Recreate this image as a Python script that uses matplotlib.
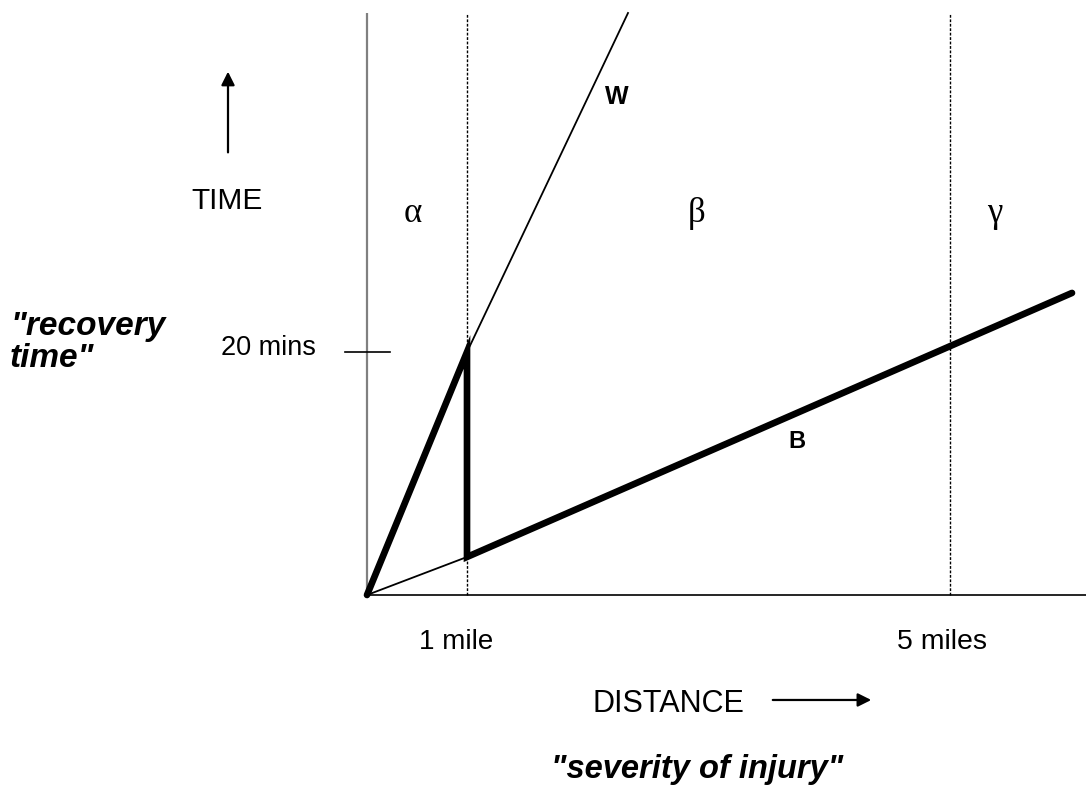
import matplotlib
matplotlib.use("Agg")
import matplotlib.pyplot as plt

# ---- data (schematic units: x = distance position, y = minutes) ----
region_bounds = [1.0, 5.83]            # dashed boundaries (1 mile, 5 miles)
tick_labels_x = ["1 mile", "5 miles"]
time_tick = 20.0                        # "20 mins"
time_tick_label = "20 mins"

w_x = [0.0, 1.0, 2.61]                  # line W
w_y = [0.0, 20.0, 47.9]
b_x = [0.0, 1.0, 7.05]                  # line B
b_y = [0.0, 3.13, 24.86]
thick_x = [0.0, 1.0, 1.0, 7.05]         # highlighted path
thick_y = [0.0, 20.0, 3.13, 24.86]

region_labels = ["α", "β", "γ"]
region_label_x = [0.46, 3.30, 6.28]

XMAX, YMAX = 7.19, 47.9

plt.rcParams['font.family'] = ['Liberation Sans', 'DejaVu Sans']

fig = plt.figure(figsize=(10.86, 7.86), dpi=100)
W, H = 1086, 786
x0, y0, ytop = 367, 595, 13
ax = fig.add_axes([x0 / W, (H - y0) / H, (W - x0) / W, (y0 - ytop) / H])
ax.set_xlim(0, XMAX)
ax.set_ylim(0, YMAX)
ax.axis('off')

# axes lines
ax.plot([0, 0], [0, YMAX], color='#808080', lw=1.6, clip_on=False, solid_capstyle='butt')
ax.plot([0, XMAX], [0, 0], color='black', lw=1.2, clip_on=False, solid_capstyle='butt')

# dashed boundaries
for xb in region_bounds:
    ax.plot([xb, xb], [0, YMAX], color='black', lw=1.0, ls=(0, (2, 1.2)), clip_on=False)

# thin lines
ax.plot(w_x, w_y, color='black', lw=1.3, clip_on=False)
ax.plot(b_x, b_y, color='black', lw=1.3, clip_on=False)
# thick path
ax.plot(thick_x, thick_y, color='black', lw=4.8, solid_capstyle='round',
        solid_joinstyle='miter', clip_on=False)

# time tick
ax.plot([-0.22, 0.23], [time_tick, time_tick], color='black', lw=1.2, clip_on=False)
ax.text(-0.99, time_tick + 0.35, time_tick_label, ha='center', va='center', fontsize=19.5)

# x labels
ax.text(0.89, -3.85, tick_labels_x[0], ha='center', va='center', fontsize=20)
ax.text(5.75, -3.85, tick_labels_x[1], ha='center', va='center', fontsize=20.5)

# region labels
for lab, xl in zip(region_labels, region_label_x):
    ax.text(xl, 31.4, lab, ha='center', va='center', fontsize=25,
            family=['Liberation Serif', 'DejaVu Serif'])

# line labels
ax.text(2.50, 41.0, "W", ha='center', va='center', fontsize=18, fontweight='bold')
ax.text(4.30, 12.6, "B", ha='center', va='center', fontsize=17, fontweight='bold')

# axis titles
ax.text(-1.40, 32.4, "TIME", ha='center', va='center', fontsize=21.5)
ax.annotate("", xy=(-1.39, 43.3), xytext=(-1.39, 36.2), xycoords='data',
            arrowprops=dict(arrowstyle='-|>', color='black', lw=1.6, mutation_scale=20),
            annotation_clip=False)
ax.text(3.01, -8.97, "DISTANCE", ha='center', va='center', fontsize=22)
ax.annotate("", xy=(5.07, -8.64), xytext=(4.03, -8.64), xycoords='data',
            arrowprops=dict(arrowstyle='-|>', color='black', lw=1.6, mutation_scale=20),
            annotation_clip=False)

ax.text(-3.57, 20.8, "\"recovery\ntime\"", ha='left', va='center', fontsize=24,
        fontweight='bold', fontstyle='italic', linespacing=1.02)
ax.text(3.30, -14.4, "\"severity of injury\"", ha='center', va='center', fontsize=23.5,
        fontweight='bold', fontstyle='italic')

fig.savefig("out.png", dpi=100, facecolor='white')
